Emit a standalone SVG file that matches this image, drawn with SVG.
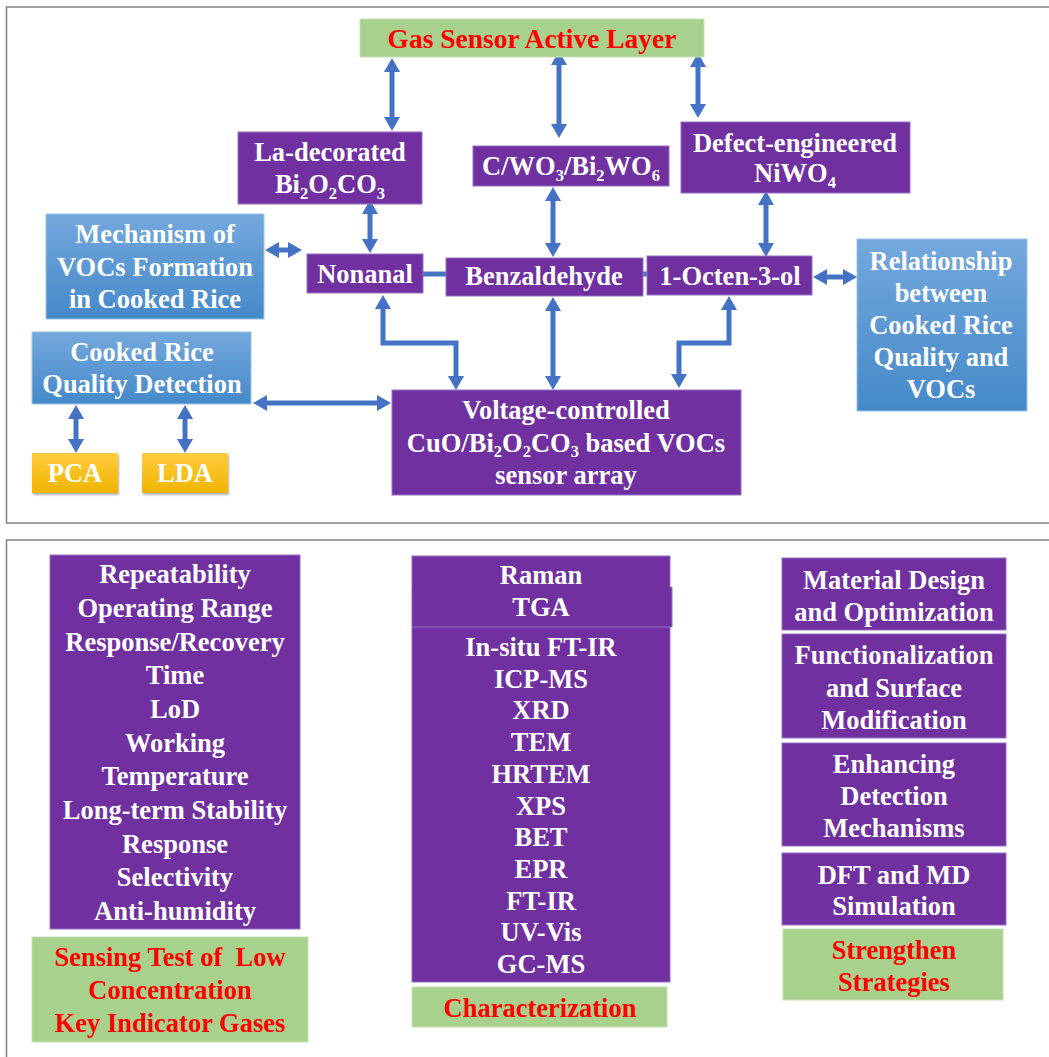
<svg xmlns="http://www.w3.org/2000/svg" width="1049" height="1057" viewBox="0 0 1049 1057">
<defs>
<linearGradient id="gBlue" x1="0" y1="0" x2="0" y2="1">
<stop offset="0" stop-color="#74a8dd"/><stop offset="1" stop-color="#4589c9"/>
</linearGradient>
<linearGradient id="gYel" x1="0" y1="0" x2="0" y2="1">
<stop offset="0" stop-color="#ffcc3f"/><stop offset="1" stop-color="#f0b400"/>
</linearGradient>
<marker id="ah" markerUnits="userSpaceOnUse" markerWidth="15" markerHeight="16" refX="1" refY="8" orient="auto-start-reverse">
<path d="M0,0 L14,8 L0,16 z" fill="#4472c4"/>
</marker>
<filter id="sh" x="-10%" y="-10%" width="130%" height="140%">
<feDropShadow dx="1" dy="2" stdDeviation="1.2" flood-color="#000" flood-opacity="0.3"/>
</filter>
</defs>
<style>
.frame{fill:none;stroke:#808080;stroke-width:1.5}
.pur{fill:#7030a0;stroke:#9470c4;stroke-width:1}
.purf{fill:#7030a0}
.edge{fill:none;stroke:#9470c4;stroke-width:1}
.grn{fill:#a9d18e;stroke:#c5e0b4;stroke-width:1}
.blu{fill:url(#gBlue);stroke:#9dc3e6;stroke-width:1}
.yel{fill:url(#gYel);filter:url(#sh)}
text{font-family:"Liberation Serif","Times New Roman",serif;font-weight:bold;font-size:26.5px;text-anchor:middle;fill:#ffffff}
.red{fill:#ff0000}
.big{font-size:27.5px}
.sub{font-size:16.5px}
.c{fill:none;stroke:#4472c4;stroke-width:5}
.a{marker-start:url(#ah);marker-end:url(#ah)}
</style>
<rect width="1049" height="1057" fill="#ffffff"/>
<rect class="frame" x="6.5" y="7" width="1060" height="516"/>
<rect class="frame" x="6.5" y="540" width="1060" height="530"/>

<g id="connectors">
<line class="c a" x1="392" y1="71" x2="392" y2="118"/>
<line class="c a" x1="559" y1="64" x2="559" y2="125"/>
<line class="c a" x1="698" y1="66" x2="698" y2="105"/>
<line class="c a" x1="370" y1="213" x2="370" y2="240"/>
<line class="c a" x1="278" y1="250" x2="289" y2="250"/>
<line class="c a" x1="553" y1="200" x2="553" y2="244"/>
<line class="c a" x1="766" y1="204" x2="766" y2="244"/>
<line class="c" x1="423" y1="274" x2="446" y2="274"/>
<line class="c" x1="642" y1="274" x2="648" y2="274"/>
<line class="c a" x1="826" y1="277" x2="844" y2="277"/>
<path class="c a" d="M383,308 L383,343 L456,343 L456,377"/>
<line class="c a" x1="553" y1="310" x2="553" y2="377"/>
<path class="c a" d="M729,309 L729,343 L679,343 L679,375"/>
<line class="c a" x1="266" y1="403" x2="378" y2="403"/>
<line class="c a" x1="76" y1="418" x2="76" y2="440"/>
<line class="c a" x1="185" y1="418" x2="185" y2="440"/>
</g>

<g id="gas-layer">
<rect class="grn" x="360" y="19" width="344" height="38"/>
<text class="red big" x="532" y="48">Gas Sensor Active Layer</text>
</g>
<g id="la-bi2o2co3">
<rect class="pur" x="238" y="132" width="184" height="72"/>
<text x="330" y="161">La-decorated</text>
<text x="330" y="193">Bi<tspan class="sub" dy="6">2</tspan><tspan dy="-6">O</tspan><tspan class="sub" dy="6">2</tspan><tspan dy="-6">CO</tspan><tspan class="sub" dy="6">3</tspan></text>
</g>
<g id="c-wo3-bi2wo6">
<rect class="pur" x="473" y="146" width="196" height="40"/>
<text x="571" y="175">C/WO<tspan class="sub" dy="6">3</tspan><tspan dy="-6">/Bi</tspan><tspan class="sub" dy="6">2</tspan><tspan dy="-6">WO</tspan><tspan class="sub" dy="6">6</tspan></text>
</g>
<g id="niwo4">
<rect class="pur" x="681" y="122" width="229" height="71"/>
<text x="795" y="152">Defect-engineered</text>
<text x="795" y="182">NiWO<tspan class="sub" dy="6">4</tspan></text>
</g>
<g id="mechanism">
<rect class="blu" x="46" y="214" width="218" height="105"/>
<text x="155" y="243">Mechanism of</text>
<text x="155" y="276">VOCs Formation</text>
<text x="155" y="308">in Cooked Rice</text>
</g>
<g id="nonanal">
<rect class="pur" x="307" y="254" width="116" height="39"/>
<text x="365" y="283">Nonanal</text>
</g>
<g id="benzaldehyde">
<rect class="pur" x="446" y="258" width="197" height="38"/>
<text x="544" y="285">Benzaldehyde</text>
</g>
<g id="octenol">
<rect class="pur" x="647" y="256" width="165" height="39"/>
<text x="730" y="285">1-Octen-3-ol</text>
</g>
<g id="relationship">
<rect class="blu" x="857" y="239" width="170" height="172"/>
<text x="941" y="270">Relationship</text>
<text x="941" y="302">between</text>
<text x="941" y="334">Cooked Rice</text>
<text x="941" y="366">Quality and</text>
<text x="941" y="398">VOCs</text>
</g>
<g id="detection">
<rect class="blu" x="32" y="332" width="219" height="72"/>
<text x="142" y="361">Cooked Rice</text>
<text x="142" y="393">Quality Detection</text>
</g>
<g id="pca">
<rect class="yel" x="32" y="453" width="86" height="40"/>
<text x="75" y="482">PCA</text>
</g>
<g id="lda">
<rect class="yel" x="142" y="453" width="86" height="40"/>
<text x="185" y="482">LDA</text>
</g>
<g id="sensor-array">
<rect class="pur" x="392" y="390" width="349" height="105"/>
<text x="566" y="419">Voltage-controlled</text>
<text x="566" y="452">CuO/Bi<tspan class="sub" dy="5">2</tspan><tspan dy="-5">O</tspan><tspan class="sub" dy="5">2</tspan><tspan dy="-5">CO</tspan><tspan class="sub" dy="5">3</tspan><tspan dy="-5"> based VOCs</tspan></text>
<text x="566" y="484">sensor array</text>
</g>

<g id="sensing-list">
<rect class="pur" x="50" y="555" width="250" height="374"/>
<text x="175" y="583">Repeatability</text>
<text x="175" y="617">Operating Range</text>
<text x="175" y="651">Response/Recovery</text>
<text x="175" y="684">Time</text>
<text x="175" y="718">LoD</text>
<text x="175" y="752">Working</text>
<text x="175" y="785">Temperature</text>
<text x="175" y="819">Long-term Stability</text>
<text x="175" y="853">Response</text>
<text x="175" y="886">Selectivity</text>
<text x="175" y="920">Anti-humidity</text>
</g>
<g id="sensing-title">
<rect class="grn" x="32" y="937" width="276" height="105"/>
<text class="red" x="170" y="966" xml:space="preserve">Sensing Test of  Low</text>
<text class="red" x="170" y="999">Concentration</text>
<text class="red" x="170" y="1032">Key Indicator Gases</text>
</g>
<g id="characterization-list">
<rect class="pur" x="412" y="556" width="258" height="71"/>
<rect class="purf" x="412.5" y="587" width="259.5" height="40"/>
<path class="edge" d="M672,587 L672,627"/>
<rect class="pur" x="412" y="627" width="258" height="355"/>
<text x="541" y="584">Raman</text>
<text x="541" y="616">TGA</text>
<text x="541" y="656">In-situ FT-IR</text>
<text x="541" y="688">ICP-MS</text>
<text x="541" y="719">XRD</text>
<text x="541" y="751">TEM</text>
<text x="541" y="783">HRTEM</text>
<text x="541" y="815">XPS</text>
<text x="541" y="846">BET</text>
<text x="541" y="878">EPR</text>
<text x="541" y="910">FT-IR</text>
<text x="541" y="941">UV-Vis</text>
<text x="541" y="973">GC-MS</text>
</g>
<g id="characterization-title">
<rect class="grn" x="412" y="987" width="255" height="40"/>
<text class="red" x="540" y="1017">Characterization</text>
</g>
<g id="material-design">
<rect class="pur" x="782" y="558" width="224" height="72"/>
<text x="894" y="589">Material Design</text>
<text x="894" y="621">and Optimization</text>
</g>
<g id="functionalization">
<rect class="pur" x="782" y="634" width="224" height="104"/>
<text x="894" y="664">Functionalization</text>
<text x="894" y="697">and Surface</text>
<text x="894" y="729">Modification</text>
</g>
<g id="enhancing">
<rect class="pur" x="782" y="743" width="224" height="103"/>
<text x="894" y="773">Enhancing</text>
<text x="894" y="805">Detection</text>
<text x="894" y="837">Mechanisms</text>
</g>
<g id="dft">
<rect class="pur" x="782" y="853" width="224" height="72"/>
<text x="894" y="884">DFT and MD</text>
<text x="894" y="915">Simulation</text>
</g>
<g id="strategies-title">
<rect class="grn" x="783" y="929" width="220" height="71"/>
<text class="red" x="894" y="959">Strengthen</text>
<text class="red" x="894" y="991">Strategies</text>
</g>
</svg>
